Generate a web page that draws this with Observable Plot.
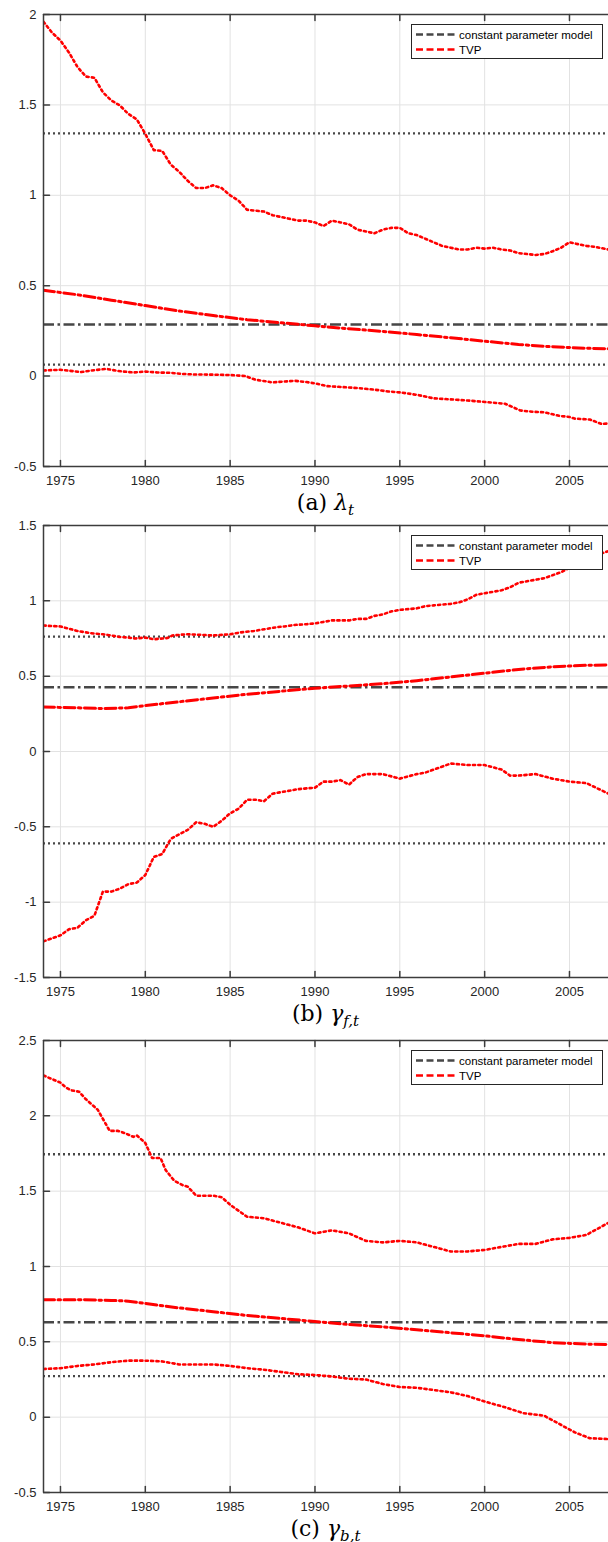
<!DOCTYPE html>
<html><head><meta charset="utf-8">
<script src="https://cdn.jsdelivr.net/npm/d3@7"></script>
<script src="https://cdn.jsdelivr.net/npm/@observablehq/plot@0.6"></script>
<style>
body{margin:0;background:#fff;width:608px;overflow:hidden;}
.sec{position:relative;width:608px;}
.sec svg{display:block;}
.cap{height:26px;line-height:26px;text-align:center;font-family:"DejaVu Serif","Liberation Serif",serif;font-size:22px;color:#000;padding-left:43px;box-sizing:border-box;white-space:nowrap;}
.cap sub{font-size:15px;vertical-align:-5px;line-height:0;}
.legend{position:absolute;left:411px;width:192px;height:35px;}
</style>
</head><body>
<div id="root"></div>
<script>
// ---------- data ----------
const xTicks = [1975, 1980, 1985, 1990, 1995, 2000, 2005];
const xDomain = [1974, 2007.3];

// panel (a) lambda_t
const aTicks = [-0.5, 0, 0.5, 1, 1.5, 2];
const aDomain = [-0.5, 2];
const aConst = [1.342, 0.285, 0.063]; // upper band, estimate, lower band
const aHi = [[1974,1.96],[1974.5,1.90],[1975,1.856],[1975.5,1.79],[1976,1.71],[1976.5,1.657],[1977,1.65],[1977.5,1.57],[1978,1.524],[1978.5,1.497],[1979,1.45],[1979.5,1.42],[1980,1.34],[1980.5,1.25],[1981,1.245],[1981.5,1.17],[1982,1.13],[1982.5,1.08],[1983,1.04],[1983.5,1.04],[1984,1.055],[1984.5,1.04],[1985,1.00],[1985.5,0.97],[1986,0.92],[1986.5,0.915],[1987,0.91],[1987.5,0.89],[1988,0.88],[1988.5,0.87],[1989,0.86],[1989.5,0.86],[1990,0.85],[1990.5,0.83],[1991,0.86],[1991.5,0.85],[1992,0.84],[1992.5,0.81],[1993,0.80],[1993.5,0.79],[1994,0.81],[1994.5,0.82],[1995,0.82],[1995.5,0.79],[1996,0.78],[1996.5,0.76],[1997,0.74],[1997.5,0.72],[1998,0.71],[1998.5,0.70],[1999,0.70],[1999.5,0.71],[2000,0.705],[2000.5,0.71],[2001,0.70],[2001.5,0.695],[2002,0.68],[2002.5,0.675],[2003,0.67],[2003.5,0.675],[2004,0.69],[2004.5,0.71],[2005,0.74],[2005.5,0.73],[2006,0.72],[2006.5,0.715],[2007.3,0.70]];
const aMid = [[1974,0.475],[1976,0.45],[1978,0.42],[1980,0.39],[1982,0.36],[1984,0.335],[1986,0.312],[1988,0.295],[1990,0.278],[1992,0.262],[1994,0.247],[1996,0.23],[1998,0.212],[2000,0.193],[2002,0.175],[2004,0.162],[2006,0.154],[2007.3,0.151]];
const aLo = [[1974,0.031],[1974.5,0.033],[1975,0.035],[1975.5,0.03],[1976.2,0.022],[1977,0.033],[1977.7,0.04],[1978.4,0.028],[1979.3,0.02],[1980,0.025],[1980.7,0.02],[1981.5,0.018],[1982.2,0.012],[1982.9,0.009],[1984,0.008],[1985,0.006],[1985.9,0],[1986.5,-0.02],[1987.5,-0.035],[1988.2,-0.03],[1988.8,-0.026],[1989.5,-0.033],[1990,-0.04],[1990.7,-0.055],[1991.5,-0.06],[1992.5,-0.066],[1993.6,-0.076],[1994.3,-0.085],[1995,-0.09],[1996.1,-0.105],[1997,-0.123],[1998.2,-0.13],[1999,-0.135],[2000,-0.143],[2001.2,-0.153],[2002.1,-0.19],[2002.8,-0.197],[2003.5,-0.2],[2004.4,-0.22],[2005,-0.226],[2005.3,-0.235],[2006.2,-0.24],[2006.9,-0.265],[2007.3,-0.262]];

// panel (b) gamma_f,t
const bTicks = [-1.5, -1, -0.5, 0, 0.5, 1, 1.5];
const bDomain = [-1.5, 1.5];
const bConst = [0.763, 0.427, -0.61];
const bHi = [[1974,0.836],[1975,0.83],[1975.5,0.815],[1976,0.80],[1976.8,0.785],[1977.5,0.778],[1978,0.77],[1978.5,0.76],[1979,0.756],[1979.4,0.75],[1980,0.756],[1980.5,0.745],[1981,0.75],[1981.3,0.753],[1981.6,0.77],[1982.4,0.778],[1983.2,0.775],[1984,0.77],[1985,0.778],[1985.6,0.79],[1986.4,0.80],[1987.2,0.815],[1987.8,0.826],[1988.2,0.83],[1988.8,0.84],[1989.5,0.845],[1990,0.85],[1990.5,0.86],[1991,0.87],[1992,0.87],[1992.5,0.88],[1993,0.88],[1993.5,0.9],[1994,0.91],[1994.5,0.93],[1995,0.94],[1996,0.95],[1996.5,0.965],[1997,0.97],[1998,0.98],[1998.5,0.99],[1999,1.01],[1999.5,1.04],[2000,1.05],[2000.5,1.06],[2001,1.07],[2001.5,1.09],[2002,1.12],[2002.5,1.13],[2003,1.14],[2003.5,1.15],[2004,1.17],[2004.5,1.19],[2005,1.22],[2005.5,1.24],[2006,1.28],[2006.5,1.30],[2007.3,1.33]];
const bMid = [[1974,0.295],[1976,0.29],[1977.5,0.285],[1979,0.29],[1980,0.305],[1982,0.33],[1984,0.355],[1986,0.38],[1988,0.40],[1990,0.42],[1992,0.435],[1994,0.45],[1996,0.47],[1998,0.495],[2000,0.52],[2002,0.545],[2004,0.562],[2006,0.572],[2007.3,0.575]];
const bLo = [[1974,-1.26],[1975,-1.22],[1975.5,-1.18],[1976,-1.17],[1976.5,-1.12],[1977,-1.09],[1977.5,-0.93],[1978,-0.93],[1978.5,-0.91],[1979,-0.88],[1979.5,-0.87],[1980,-0.82],[1980.5,-0.70],[1981,-0.68],[1981.5,-0.58],[1982,-0.55],[1982.5,-0.52],[1983,-0.47],[1983.5,-0.48],[1984,-0.50],[1984.5,-0.46],[1985,-0.41],[1985.5,-0.38],[1986,-0.32],[1986.5,-0.32],[1987,-0.33],[1987.5,-0.28],[1988,-0.27],[1988.5,-0.26],[1989,-0.25],[1990,-0.24],[1990.5,-0.20],[1991,-0.20],[1991.5,-0.19],[1992,-0.22],[1992.5,-0.17],[1993,-0.15],[1994,-0.15],[1995,-0.18],[1996,-0.15],[1996.5,-0.14],[1997,-0.12],[1998,-0.08],[1999,-0.09],[2000,-0.09],[2001,-0.12],[2001.5,-0.16],[2002,-0.16],[2003,-0.15],[2004,-0.18],[2005,-0.20],[2006,-0.21],[2007.3,-0.28]];

// panel (c) gamma_b,t
const cTicks = [-0.5, 0, 0.5, 1, 1.5, 2, 2.5];
const cDomain = [-0.5, 2.5];
const cConst = [1.745, 0.63, 0.272];
const cHi = [[1974,2.268],[1975,2.22],[1975.3,2.19],[1975.6,2.17],[1976.1,2.16],[1976.5,2.11],[1977,2.06],[1977.2,2.04],[1977.6,1.96],[1977.9,1.90],[1978.4,1.90],[1978.8,1.885],[1979.3,1.86],[1979.5,1.87],[1979.7,1.85],[1980,1.82],[1980.4,1.72],[1980.9,1.72],[1981.2,1.64],[1981.7,1.57],[1982.2,1.54],[1982.5,1.53],[1983,1.47],[1984,1.47],[1984.5,1.46],[1985,1.41],[1986,1.33],[1987,1.32],[1988,1.29],[1989,1.26],[1990,1.22],[1991,1.24],[1992,1.22],[1993,1.17],[1994,1.16],[1995,1.17],[1996,1.16],[1997,1.13],[1998,1.10],[1999,1.10],[2000,1.11],[2001,1.13],[2002,1.15],[2003,1.15],[2004,1.18],[2005,1.19],[2006,1.21],[2007.3,1.29]];
const cMid = [[1974,0.78],[1976,0.78],[1978,0.775],[1979,0.77],[1980,0.755],[1982,0.725],[1984,0.70],[1986,0.675],[1988,0.655],[1990,0.635],[1992,0.615],[1994,0.60],[1996,0.58],[1998,0.56],[2000,0.54],[2002,0.515],[2004,0.495],[2006,0.485],[2007.3,0.482]];
const cLo = [[1974,0.32],[1975,0.325],[1976,0.34],[1977,0.35],[1978,0.365],[1979,0.375],[1980,0.375],[1981,0.37],[1982,0.35],[1983,0.35],[1984,0.35],[1985,0.34],[1986,0.325],[1987,0.315],[1988,0.30],[1989,0.285],[1990,0.28],[1991,0.27],[1992,0.255],[1993,0.25],[1994,0.22],[1995,0.20],[1996,0.195],[1997,0.18],[1998,0.165],[1999,0.14],[2000,0.104],[2001.2,0.066],[2002.3,0.026],[2003.5,0.01],[2004.4,-0.045],[2005.3,-0.10],[2006.2,-0.14],[2007.3,-0.145]];

const legendLabels = ["constant parameter model", "TVP"];
const captions = [["a", "λ", "t"], ["b", "γ", "f,t"], ["c", "γ", "b,t"]];

// ---------- drawing ----------
const grey = "#474747", red = "#ff0000", axisCol = "#3c3c3c", gridCol = "#e2e2e2";
const tickShape = {draw(ctx, l) { ctx.moveTo(0, 0); ctx.lineTo(0, -l); }};
const dashDot = "11,3.5,2.5,3.5";

function panel(p) {
  const [y0, y1] = p.domain;
  const X = d => d[0], Y = d => d[1];
  return Plot.plot({
    width: 608, height: p.mt + 452 + 24,
    marginLeft: 43, marginRight: 0, marginTop: p.mt, marginBottom: 24,
    style: {fontFamily: "'Liberation Sans', Arial, Helvetica, sans-serif", fontSize: "13px", color: "#262626", background: "transparent", overflow: "visible"},
    x: {domain: xDomain},
    y: {domain: p.domain},
    marks: [
      Plot.gridX(xTicks, {stroke: gridCol, strokeOpacity: 1}),
      Plot.gridY(p.ticks, {stroke: gridCol, strokeOpacity: 1}),
      Plot.ruleY([p.c[0], p.c[2]], {stroke: grey, strokeWidth: 2.3, strokeDasharray: "2,3"}),
      Plot.ruleY([p.c[1]], {stroke: grey, strokeWidth: 2.5, strokeDasharray: dashDot}),
      Plot.line(p.hi, {x: X, y: Y, stroke: red, strokeWidth: 2.6, strokeDasharray: "2.2,3.2", clip: true}),
      Plot.line(p.lo, {x: X, y: Y, stroke: red, strokeWidth: 2.6, strokeDasharray: "2.2,3.2", clip: true}),
      Plot.line(p.mid, {x: X, y: Y, stroke: red, strokeWidth: 3, strokeDasharray: dashDot, clip: true}),
      Plot.ruleX([xDomain[0]], {stroke: axisCol, strokeWidth: 1.5}),
      Plot.ruleY([y0, y1], {stroke: axisCol, strokeWidth: 1.5}),
      Plot.vector(p.ticks, {x: xDomain[0], y: d => d, rotate: 90, length: 6, anchor: "start", shape: tickShape, stroke: axisCol}),
      Plot.vector(xTicks, {x: d => d, y: y0, rotate: 0, length: 6, anchor: "start", shape: tickShape, stroke: axisCol}),
      Plot.vector(xTicks, {x: d => d, y: y1, rotate: 180, length: 6, anchor: "start", shape: tickShape, stroke: axisCol}),
      Plot.axisX(xTicks, {tickSize: 0, tickPadding: 9, tickFormat: d => String(d), label: null}),
      Plot.axisY(p.ticks, {tickSize: 0, tickPadding: 7, tickFormat: d => String(d), label: null})
    ]
  });
}

function legend() {
  const ns = "http://www.w3.org/2000/svg";
  const svg = document.createElementNS(ns, "svg");
  svg.setAttribute("width", 192); svg.setAttribute("height", 35);
  svg.innerHTML = `<rect x="0.5" y="0.5" width="191" height="34" fill="#fff" stroke="#262626" stroke-width="1"/>
    <line x1="5" x2="44" y1="10.5" y2="10.5" stroke="${grey}" stroke-width="2.5" stroke-dasharray="7,3.5"/>
    <line x1="5" x2="44" y1="25.5" y2="25.5" stroke="${red}" stroke-width="2.5" stroke-dasharray="7,3.5"/>
    <text x="48" y="10.5" dy="0.35em" font-family="'Liberation Sans', Arial, sans-serif" font-size="11.5" fill="#000">${legendLabels[0]}</text>
    <text x="48" y="25.5" dy="0.35em" font-family="'Liberation Sans', Arial, sans-serif" font-size="11.5" fill="#000">${legendLabels[1]}</text>`;
  return svg;
}

const panels = [
  {mt: 14, domain: aDomain, ticks: aTicks, c: aConst, hi: aHi, mid: aMid, lo: aLo},
  {mt: 9, domain: bDomain, ticks: bTicks, c: bConst, hi: bHi, mid: bMid, lo: bLo},
  {mt: 13, domain: cDomain, ticks: cTicks, c: cConst, hi: cHi, mid: cMid, lo: cLo}
];

const root = document.getElementById("root");
panels.forEach((p, i) => {
  const sec = document.createElement("div");
  sec.className = "sec";
  sec.appendChild(panel(p));
  const lg = document.createElement("div");
  lg.className = "legend";
  lg.style.top = (p.mt + 10) + "px";
  lg.appendChild(legend());
  sec.appendChild(lg);
  root.appendChild(sec);
  const cap = document.createElement("div");
  cap.className = "cap";
  const [l, g, s] = captions[i];
  cap.innerHTML = `(${l}) <i>${g}</i><sub><i>${s}</i></sub>`;
  root.appendChild(cap);
});
</script>
</body></html>
